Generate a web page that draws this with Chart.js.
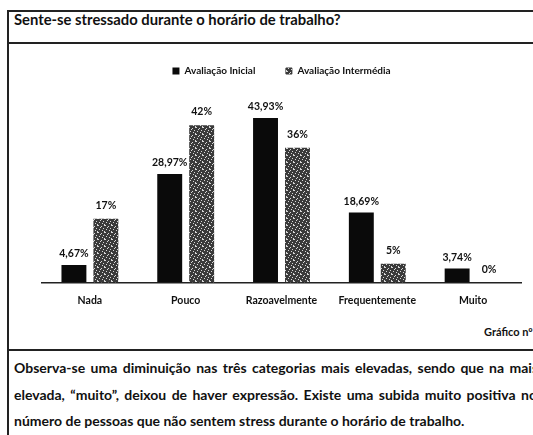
<!DOCTYPE html>
<html>
<head>
<meta charset="utf-8">
<script src="https://cdn.jsdelivr.net/npm/chart.js@4.4.0/dist/chart.umd.min.js"></script>
<style>
  body { margin:0; width:533px; height:435px; overflow:hidden; background:#fff; position:relative; font-family: Lato, "Open Sans", sans-serif; color:#111; }
  .ln { position:absolute; background:#222; }
  .txt { position:absolute; white-space:nowrap; font-weight:bold; }
  #wrap { position:absolute; left:0; top:36px; width:533px; height:275px; }
</style>
</head>
<body>
<div class="ln" style="left:7px;top:10px;width:1.5px;height:425px"></div>
<div class="ln" style="left:7px;top:10px;width:526px;height:1.5px"></div>
<div class="ln" style="left:7px;top:42px;width:526px;height:1.5px"></div>
<div class="ln" style="left:7px;top:349px;width:526px;height:1.5px"></div>
<div class="txt" style="left:14px;top:10px;font-size:14.8px">Sente-se stressado durante o horário de trabalho?</div>
<div class="txt" style="left:484px;top:325px;font-size:11px">Gráfico nº</div>
<div class="txt" style="left:14px;top:359px;font-size:14px;word-spacing:2px">Observa-se uma diminuição nas três categorias mais elevadas, sendo que na mais</div>
<div class="txt" style="left:14px;top:386px;font-size:14px;word-spacing:2px">elevada, “muito”, deixou de haver expressão. Existe uma subida muito positiva no</div>
<div class="txt" style="left:14px;top:412px;font-size:14px">número de pessoas que não sentem stress durante o horário de trabalho.</div>
<div id="wrap"><canvas id="myChart" width="533" height="275"></canvas></div>
<script>
'use strict'
let categories = ['Nada', 'Pouco', 'Razoavelmente', 'Frequentemente', 'Muito'];
let inicialValues = [4.67, 28.97, 43.93, 18.69, 3.74];
let intermediaValues = [17, 42, 36, 5, 0];
let inicialLabels = ['4,67%', '28,97%', '43,93%', '18,69%', '3,74%'];
let intermediaLabels = ['17%', '42%', '36%', '5%', '0%'];

// speckled fill for the second series (fixed pattern, no randomness)
function makeSpeckle(){
    let c = document.createElement('canvas');
    c.width = 7; c.height = 7;
    let g = c.getContext('2d');
    g.fillStyle = '#3a3a3a';
    g.fillRect(0, 0, 7, 7);
    g.fillStyle = '#d8d8d8';
    let dots = [[0,0],[3,1],[5,3],[1,4],[6,6],[4,5],[2,2],[6,0]];
    for (let i = 0; i < dots.length; i++){
        g.fillRect(dots[i][0], dots[i][1], 1, 1);
    }
    return g.createPattern(c, 'repeat');
}
let speckle = makeSpeckle();

let valueLabels = {
    id: 'valueLabels',
    afterDatasetsDraw(chart){
        let ctx = chart.ctx;
        ctx.save();
        ctx.font = 'bold 10.5px Lato, sans-serif';
        ctx.fillStyle = '#111';
        ctx.textAlign = 'center';
        ctx.textBaseline = 'bottom';
        let texts = [inicialLabels, intermediaLabels];
        chart.data.datasets.forEach(function(ds, d){
            chart.getDatasetMeta(d).data.forEach(function(bar, i){
                ctx.fillText(texts[d][i], bar.x, bar.y - (d === 0 ? 6 : 8));
            });
        });
        ctx.restore();
    }
};

let ctx = document.getElementById('myChart').getContext('2d');
let chart = new Chart(ctx, {
    type: 'bar',
    data: {
        labels: categories,
        datasets: [{
            label: 'Avaliação Inicial',
            backgroundColor: '#0a0a0a',
            data: inicialValues,
        },{
            label: 'Avaliação Intermédia',
            backgroundColor: speckle,
            data: intermediaValues,
        }]
    },
    options: {
        responsive: false,
        animation: false,
        categoryPercentage: 0.667,
        barPercentage: 0.78,
        layout: { padding: { left: 42, right: 12, top: 0, bottom: 0 } },
        plugins: {
            legend: {
                position: 'top',
                labels: { boxWidth: 7, boxHeight: 7, color: '#111', font: { family: 'Lato', size: 10, weight: 'bold' }, padding: 30 }
            },
            tooltip: { enabled: false }
        },
        scales: {
            y: { display: false, min: 0, max: 52.5 },
            x: {
                grid: { display: false },
                border: { color: '#222', width: 1.5 },
                ticks: { color: '#111', font: { family: 'Lato', size: 10.5, weight: 'bold' }, padding: 4 }
            }
        }
    },
    plugins: [valueLabels]
});
</script>
</body>
</html>
